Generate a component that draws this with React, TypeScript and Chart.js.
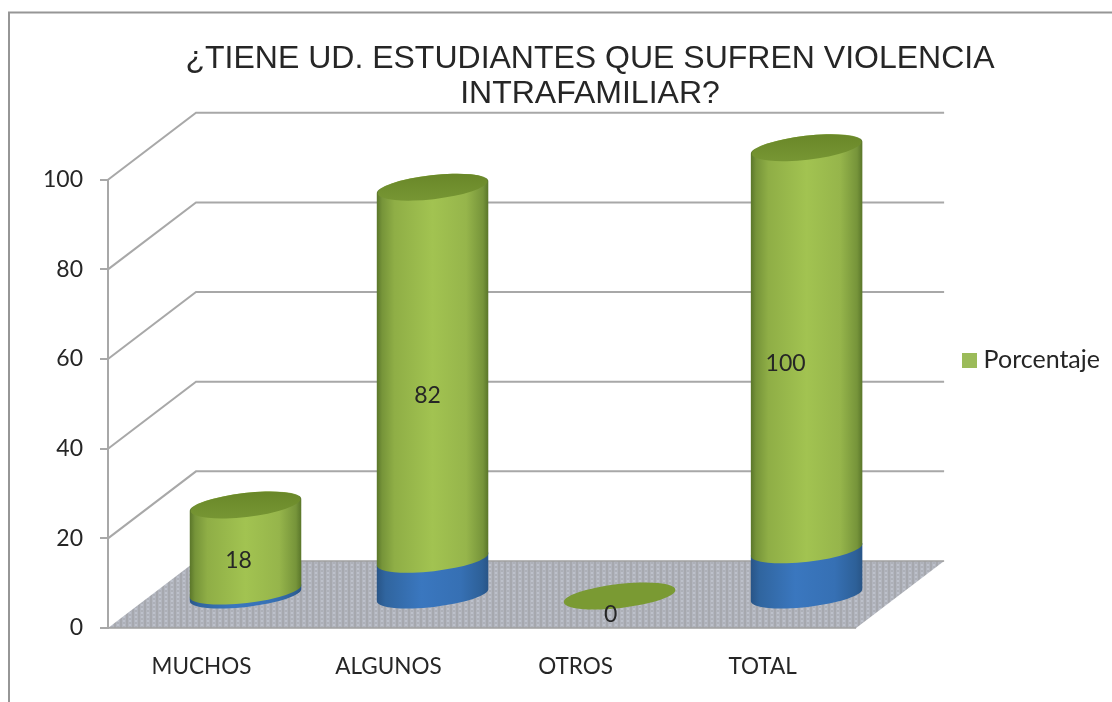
import React, { useEffect, useRef } from "react";
import { Chart, registerables } from "chart.js";

Chart.register(...registerables);

const categories = ["MUCHOS", "ALGUNOS", "OTROS", "TOTAL"];
// Printed labels of the chart
const printedValues = [18, 82, 0, 100];
// Heights as drawn in the picture, split in the blue foot and the green body
const blueFoot = [1.1, 8.2, 0, 10.3];
const greenBody = [19.2, 83, 0, 89.7];
const yTicks = [0, 20, 40, 60, 80, 100];
const titleLines = ["¿TIENE UD. ESTUDIANTES QUE SUFREN VIOLENCIA", "INTRAFAMILIAR?"];
const seriesName = "Porcentaje";

const DEPTH_X = 88;
const DEPTH_Y = 67;
const CYL_X = 44;
const CYL_Y = 32;
const TILT = (-6.5 * Math.PI) / 180;
const labelNudge = [
  [-7, 11],
  [-5, 4],
  [-9, 19],
  [-21, -8],
];
const TEXT = "#262626";
const LINE = "#a8a8a8";
const FONT = "Lato, 'Open Sans', sans-serif";

function floorPattern(ctx: CanvasRenderingContext2D) {
  const c = document.createElement("canvas");
  c.width = 6;
  c.height = 4;
  const p = c.getContext("2d")!;
  p.fillStyle = "#b2b5be";
  p.fillRect(0, 0, 6, 4);
  p.fillStyle = "#a6a8ae";
  p.fillRect(0, 0, 2, 4);
  p.fillStyle = "#bdc1cb";
  p.fillRect(3, 0, 2, 2);
  p.fillStyle = "#adb0b8";
  p.fillRect(3, 2, 2, 2);
  return ctx.createPattern(c, "repeat")!;
}

function legendSwatch() {
  const c = document.createElement("canvas");
  c.width = 15;
  c.height = 15;
  const p = c.getContext("2d")!;
  p.fillStyle = "#9bbb59";
  p.fillRect(0, 0, 15, 15);
  return c;
}

function bodyGradient(ctx: CanvasRenderingContext2D, l: number, r: number, stops: [number, string][]) {
  const g = ctx.createLinearGradient(l, 0, r, 0);
  stops.forEach(([o, c]) => g.addColorStop(o, c));
  return g;
}

const GREEN: [number, string][] = [
  [0, "#587429"],
  [0.05, "#769439"],
  [0.16, "#8fae46"],
  [0.5, "#a2c351"],
  [0.8, "#96b54b"],
  [0.95, "#76943a"],
  [1, "#587429"],
];
const BLUE: [number, string][] = [
  [0, "#285486"],
  [0.08, "#30659f"],
  [0.4, "#3a77bf"],
  [0.75, "#3670b4"],
  [0.94, "#2d6098"],
  [1, "#285486"],
];

function segment(ctx: CanvasRenderingContext2D, cx: number, a: number, b: number, yBottom: number, yTop: number, fill: any) {
  ctx.beginPath();
  ctx.ellipse(cx, yBottom, a, b, TILT, 0, Math.PI, false);
  ctx.ellipse(cx, yTop, a, b, TILT, Math.PI, 0, false);
  ctx.closePath();
  ctx.fillStyle = fill;
  ctx.fill();
}

const scene = {
  id: "scene",
  beforeDraw(chart: any) {
    const { ctx, scales, legend, titleBlock } = chart;
    const { x, y } = scales;
    // Legend and title placement of the reference
    if (!chart.$moved) {
      chart.$moved = true;
      legend.top += 9;
      legend.bottom += 9;
      titleBlock.left = 68;
      titleBlock.right = chart.width;
    }
    ctx.save();
    ctx.fillStyle = "#fff";
    ctx.fillRect(0, 0, chart.width, chart.height);
    // outer frame
    ctx.strokeStyle = "#969696";
    ctx.lineWidth = 2;
    ctx.beginPath();
    ctx.moveTo(9, chart.height);
    ctx.lineTo(9, 12.5);
    ctx.lineTo(chart.width, 12.5);
    ctx.stroke();
    // floor
    const y0 = y.getPixelForValue(0);
    ctx.beginPath();
    ctx.moveTo(x.left, y0);
    ctx.lineTo(x.right, y0);
    ctx.lineTo(x.right + DEPTH_X, y0 - DEPTH_Y);
    ctx.lineTo(x.left + DEPTH_X, y0 - DEPTH_Y);
    ctx.closePath();
    ctx.fillStyle = floorPattern(ctx);
    ctx.fill();
    ctx.strokeStyle = "#a0a0a0";
    ctx.lineWidth = 1.5;
    ctx.beginPath();
    ctx.moveTo(x.left + DEPTH_X, y0 - DEPTH_Y);
    ctx.lineTo(x.right + DEPTH_X, y0 - DEPTH_Y);
    ctx.moveTo(x.left, y0);
    ctx.lineTo(x.right, y0);
    ctx.stroke();
    // side and back wall lines
    ctx.strokeStyle = LINE;
    ctx.lineWidth = 2;
    yTicks
      .filter((v) => v > 0)
      .forEach((v) => {
        const p = y.getPixelForValue(v);
        ctx.beginPath();
        ctx.moveTo(x.left, p);
        ctx.lineTo(x.left + DEPTH_X, p - DEPTH_Y);
        ctx.lineTo(x.right + DEPTH_X, p - DEPTH_Y);
        ctx.stroke();
      });
    ctx.restore();
  },
  beforeDatasetsDraw(chart: any) {
    const { ctx } = chart;
    const foot = chart.getDatasetMeta(0).data;
    const body = chart.getDatasetMeta(1).data;
    ctx.save();
    categories.forEach((_, i) => {
      const f = foot[i];
      const g = body[i];
      const cx = f.x + CYL_X;
      const a = f.width / 2;
      const b = 12;
      const yBase = f.base - CYL_Y;
      const yFoot = f.y - CYL_Y;
      const yTop = g.y - CYL_Y;
      const l = cx - a;
      const r = cx + a;
      if (yBase - yTop < 1) {
        ctx.beginPath();
        ctx.ellipse(cx, yBase, a, b, TILT, 0, Math.PI * 2);
        ctx.fillStyle = "#7a9a33";
        ctx.fill();
        return;
      }
      segment(ctx, cx, a, b, yBase, yFoot, bodyGradient(ctx, l, r, BLUE));
      segment(ctx, cx, a, b, yFoot, yTop, bodyGradient(ctx, l, r, GREEN));
      ctx.beginPath();
      ctx.ellipse(cx, yTop, a - 1, b, TILT, 0, Math.PI * 2);
      const top = ctx.createLinearGradient(0, yTop - b, 0, yTop + b);
      top.addColorStop(0, "#6a8829");
      top.addColorStop(1, "#769533");
      ctx.fillStyle = top;
      ctx.fill();
    });
    ctx.restore();
  },
  beforeDatasetDraw() {
    return false;
  },
  afterDatasetsDraw(chart: any) {
    const { ctx } = chart;
    const foot = chart.getDatasetMeta(0).data;
    const body = chart.getDatasetMeta(1).data;
    ctx.save();
    ctx.font = `23px ${FONT}`;
    ctx.fillStyle = TEXT;
    ctx.textAlign = "center";
    ctx.textBaseline = "middle";
    printedValues.forEach((v, i) => {
      const cx = foot[i].x + CYL_X;
      const mid = (foot[i].base + body[i].y) / 2 - CYL_Y;
      ctx.fillText(String(v), cx + labelNudge[i][0], mid + labelNudge[i][1]);
    });
    ctx.restore();
  },
};

export default function App() {
  const ref = useRef<HTMLCanvasElement>(null);
  useEffect(() => {
    const chart = new Chart(ref.current!, {
      type: "bar",
      data: {
        labels: categories,
        datasets: [
          { label: "base", data: blueFoot, backgroundColor: "#3a77bf", barPercentage: 0.6, categoryPercentage: 1 },
          { label: seriesName, data: greenBody, backgroundColor: "#9bbb59", barPercentage: 0.6, categoryPercentage: 1 },
        ],
      },
      options: {
        animation: false,
        responsive: false,
        layout: { padding: { right: 2 } },
        plugins: {
          tooltip: { enabled: false },
          title: {
            display: true,
            text: titleLines,
            color: "#262626",
            font: { family: "'Liberation Sans', Arial, sans-serif", size: 32, weight: "normal", lineHeight: 1.09 },
            padding: { top: 42, bottom: 68 },
          },
          legend: {
            position: "right",
            labels: {
              filter: (it: any) => it.datasetIndex === 1,
              usePointStyle: true,
              pointStyle: legendSwatch(),
              pointStyleWidth: 3,
              boxHeight: 15,
              padding: 112,
              color: TEXT,
              font: { family: FONT, size: 25 },
            },
          },
        },
        scales: {
          x: {
            stacked: true,
            afterFit: (s: any) => {
              s.height = 74;
            },
            grid: { display: false },
            border: { display: false },
            ticks: { color: TEXT, font: { family: FONT, size: 22.5 }, padding: 17 },
          },
          y: {
            stacked: true,
            min: 0,
            max: 100,
            afterFit: (s: any) => {
              s.width = 108;
            },
            afterBuildTicks: (s: any) => {
              s.ticks = yTicks.map((v) => ({ value: v }));
            },
            grid: { drawOnChartArea: false, drawTicks: true, tickLength: 8, color: LINE, lineWidth: 2 },
            border: { display: true, color: LINE, width: 2 },
            ticks: { color: TEXT, font: { family: FONT, size: 23 }, padding: 17 },
          },
        },
      } as any,
      plugins: [scene],
    });
    return () => chart.destroy();
  }, []);
  return (
    <div style={{ position: "absolute", left: 0, top: 0, width: 1112, height: 702 }}>
      <canvas ref={ref} width={1112} height={702} style={{ display: "block" }} />
    </div>
  );
}
